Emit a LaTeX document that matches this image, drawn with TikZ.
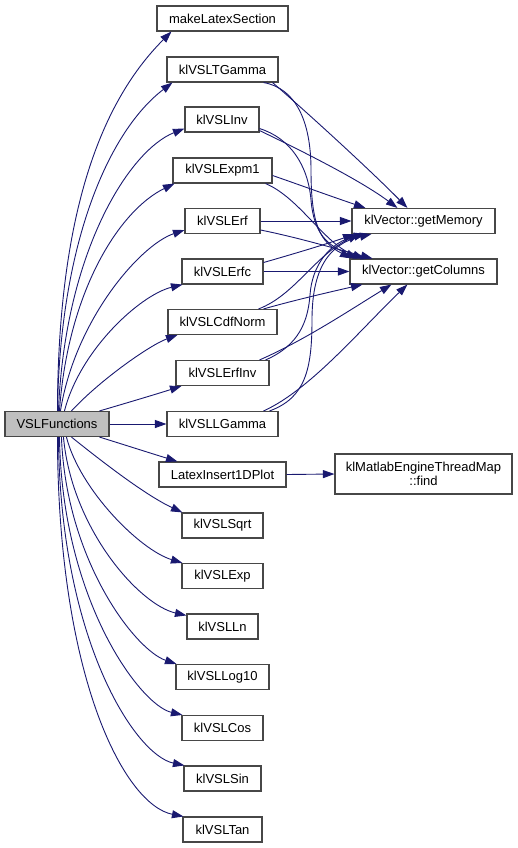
\documentclass[tikz,border=0pt]{standalone}
\usepackage{fontspec}
\setmainfont{Liberation Sans}
\usetikzlibrary{arrows.meta,calc}
\definecolor{edgeblue}{RGB}{25,25,112}
\begin{document}
\begin{tikzpicture}[x=1pt,y=-1pt,
  box/.style={draw=black!72, line width=1.1pt, fill=white, minimum height=25pt,
    inner sep=0pt, font=\fontsize{13}{14}\selectfont, text=black, align=center},
  edge/.style={draw=edgeblue, line width=0.9pt, -{Triangle[length=11.5pt,width=8pt]}}]
\useasboundingbox (0,0) rectangle (517,848);
% nodes
\node[box, minimum width=131pt] (mls) at (222.5,18.5) {makeLatexSection};
\node[box, minimum width=111pt] (tgamma) at (222.5,69.5) {klVSLTGamma};
\node[box, minimum width=74pt] (inv) at (222,119.5) {klVSLInv};
\node[box, minimum width=99pt] (expm1) at (222.5,170.5) {klVSLExpm1};
\node[box, minimum width=75pt] (erf) at (222.5,221) {klVSLErf};
\node[box, minimum width=81pt] (erfc) at (222.5,271.5) {klVSLErfc};
\node[box, minimum width=143pt] (getmem) at (423.5,221) {klVector::getMemory};
\node[box, minimum width=147pt] (getcol) at (423.5,271.5) {klVector::getColumns};
\node[box, minimum width=109pt] (cdf) at (222.5,322) {klVSLCdfNorm};
\node[box, minimum width=93pt] (erfinv) at (222.5,373) {klVSLErfInv};
\node[box, minimum width=104pt, fill=black!25] (vsl) at (57,424) {VSLFunctions};
\node[box, minimum width=111pt] (lgamma) at (222.5,424) {klVSLLGamma};
\node[box, minimum width=127pt] (latex) at (222.5,474.5) {LatexInsert1DPlot};
\node[box, minimum width=177pt, minimum height=40pt] (find) at (423.5,474) {klMatlabEngineThreadMap\\::find};
\node[box, minimum width=81pt] (sqrt) at (222.5,525.5) {klVSLSqrt};
\node[box, minimum width=81pt] (exp) at (222.5,576) {klVSLExp};
\node[box, minimum width=71pt] (ln) at (222.5,626.5) {klVSLLn};
\node[box, minimum width=93pt] (log10) at (222.5,677) {klVSLLog10};
\node[box, minimum width=81pt] (cos) at (222.5,728) {klVSLCos};
\node[box, minimum width=77pt] (sin) at (222.5,778.5) {klVSLSin};
\node[box, minimum width=79pt] (tan) at (222.5,829.5) {klVSLTan};
% edges from VSLFunctions (upper)
\draw[edge] ($(vsl.north west)+(53,0)$) .. controls (58,211) and (102,101) .. ($(mls.south west)+(15,0)$);
\draw[edge] ($(vsl.north west)+(53,0)$) .. controls (60,240) and (110,130) .. ($(tgamma.south west)+(6,0)$);
\draw[edge] ($(vsl.north west)+(54,0)$) .. controls (65,250) and (130,150) .. ($(inv.south west)+(0,-4)$);
\draw[edge] ($(vsl.north west)+(55,0)$) .. controls (68,290) and (120,210) .. ($(expm1.south west)+(2,0)$);
\draw[edge] ($(vsl.north west)+(56,0)$) .. controls (75,320) and (140,245) .. ($(erf.south west)+(0,-4)$);
\draw[edge] ($(vsl.north west)+(60,0)$) .. controls (80,350) and (140,295) .. ($(erfc.south west)+(1,0)$);
\draw[edge] ($(vsl.north west)+(67,0)$) .. controls (100,380) and (150,345) .. ($(cdf.south west)+(10,0)$);
\draw[edge] ($(vsl.north west)+(95,0)$) .. controls (130,402) and (160,393) .. ($(erfinv.south west)+(6,0)$);
\draw[edge] (vsl.east) -- (lgamma.west);
% edges from VSLFunctions (lower)
\draw[edge] ($(vsl.south west)+(95,0)$) .. controls (125,445) and (150,453) .. ($(latex.north west)+(19,0)$);
\draw[edge] ($(vsl.south west)+(67,0)$) .. controls (100,460) and (145,495) .. ($(sqrt.north west)+(1,0)$);
\draw[edge] ($(vsl.south west)+(62,0)$) .. controls (80,490) and (140,550) .. ($(exp.north west)+(1,0)$);
\draw[edge] ($(vsl.south west)+(59,0)$) .. controls (72,530) and (140,605) .. ($(ln.north west)+(0,2)$);
\draw[edge] ($(vsl.south west)+(57,0)$) .. controls (66,560) and (135,650) .. ($(log10.north west)+(1,0)$);
\draw[edge] ($(vsl.south west)+(55,0)$) .. controls (62,600) and (140,705) .. ($(cos.north west)+(1,0)$);
\draw[edge] ($(vsl.south west)+(54,0)$) .. controls (60,640) and (135,755) .. ($(sin.north west)+(1,0)$);
\draw[edge] ($(vsl.south west)+(53,0)$) .. controls (58,680) and (125,805) .. ($(tan.north west)+(1,0)$);
% right side
\draw[edge] (latex.east) -- (find.west);
\draw[edge] ($(tgamma.south east)+(-6,0)$) .. controls (310,115) and (370,170) .. ($(getmem.north west)+(56,0)$);
\draw[edge] ($(tgamma.south east)+(-15,0)$) .. controls (295,88) and (311,120) .. (311,170) .. controls (311,225) and (320,242) .. ($(getcol.north west)+(2,0)$);
\draw[edge] ($(inv.south east)+(0,-2)$) .. controls (300,150) and (360,180) .. ($(getmem.north west)+(46,0)$);
\draw[edge] ($(inv.south east)+(0,-4)$) .. controls (290,138) and (308,165) .. (311,200) .. controls (314,235) and (328,245) .. ($(getcol.north west)+(8,0)$);
\draw[edge] ($(expm1.east)+(0,5)$) .. controls (300,185) and (330,196) .. ($(getmem.north west)+(14,0)$);
\draw[edge] ($(expm1.south east)+(-7,0)$) .. controls (300,198) and (325,245) .. ($(getcol.north west)+(15,0)$);
\draw[edge] (erf.east) -- (getmem.west);
\draw[edge] ($(erf.east)+(0,9)$) .. controls (300,238) and (340,250) .. ($(getcol.north west)+(23,0)$);
\draw[edge] (erfc.east) -- (getcol.west);
\draw[edge] ($(erfc.east)+(0,-9)$) .. controls (290,255) and (330,243) .. ($(getmem.south west)+(3,0)$);
\draw[edge] ($(cdf.north east)+(-14,0)$) .. controls (295,300) and (330,292) .. ($(getcol.south west)+(13,0)$);
\draw[edge] ($(cdf.north east)+(-19,0)$) .. controls (295,295) and (315,255) .. ($(getmem.south west)+(8,0)$);
\draw[edge] ($(erfinv.north east)+(-10,0)$) .. controls (305,340) and (350,310) .. ($(getcol.south west)+(42,0)$);
\draw[edge] ($(erfinv.north east)+(-4,0)$) .. controls (300,345) and (308,320) .. (310,295) .. controls (312,265) and (330,242) .. ($(getmem.south west)+(14,0)$);
\draw[edge] ($(lgamma.north east)+(-15,0)$) .. controls (310,390) and (360,330) .. ($(getcol.south west)+(58,0)$);
\draw[edge] ($(lgamma.north east)+(-9,0)$) .. controls (305,398) and (312,370) .. (312,320) .. controls (312,270) and (328,244) .. ($(getmem.south west)+(20,0)$);
\end{tikzpicture}
\end{document}
